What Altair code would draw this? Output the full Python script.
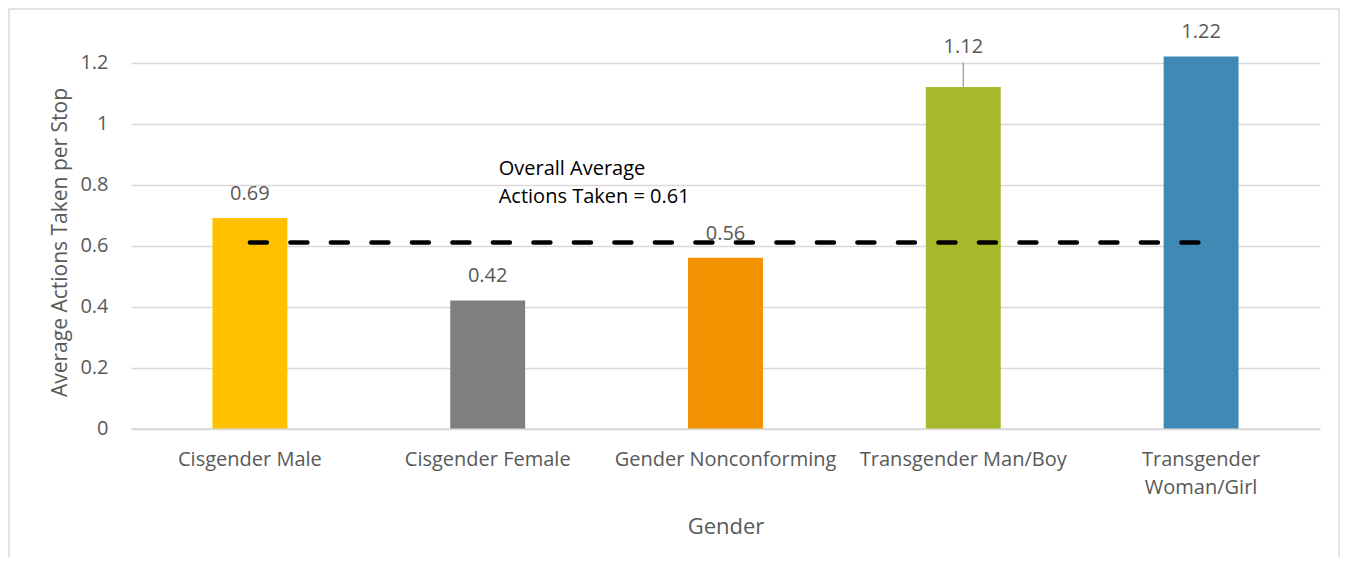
import altair as alt
import pandas as pd

categories = ["Cisgender Male", "Cisgender Female", "Gender Nonconforming",
              "Transgender Man/Boy", "Transgender Woman/Girl"]
values = [0.69, 0.42, 0.56, 1.12, 1.22]
labels = ["0.69", "0.42", "0.56", "1.12", "1.22"]
colors = ["#FFC000", "#7F7F7F", "#F39200", "#A7B82A", "#3F89B4"]
overall_avg = 0.61
overall_text = ["Overall Average", "Actions Taken = 0.61"]
y_ticks = [0, 0.2, 0.4, 0.6, 0.8, 1.0, 1.2]

FONT = "Open Sans"
TXT = "#595959"

df = pd.DataFrame({"cat": categories, "val": values, "lab": labels, "col": colors})
label_expr = "datum.value == 'Transgender Woman/Girl' ? ['Transgender', 'Woman/Girl'] : datum.value"

W, H = 1189, 396.5

x = alt.X("cat:N", sort=categories, title="Gender",
          scale=alt.Scale(paddingInner=0.685, paddingOuter=0.3425),
          axis=alt.Axis(labelExpr=label_expr, labelAngle=0, labelFont=FONT, labelFontSize=20,
                        labelColor=TXT, labelPadding=37, ticks=False, domain=True,
                        labelLimit=400, labelOverlap=False,
                        domainColor="#d9d9d9", domainWidth=1.5, titleFont=FONT, titleFontSize=22,
                        titleColor=TXT, titleFontWeight="normal", titleBaseline="alphabetic",
                        titleX=W / 2, titleY=104.5,
                        labelLineHeight=28, labelBaseline="alphabetic"))
y = alt.Y("val:Q", title="Average Actions Taken per Stop",
          scale=alt.Scale(domain=[0, 1.3], nice=False),
          axis=alt.Axis(values=y_ticks, labelExpr="format(datum.value, '')",
                        labelFont=FONT, labelFontSize=20, labelColor=TXT, labelPadding=23,
                        ticks=False, domain=False, grid=True, gridColor="#d9d9d9",
                        gridWidth=1.5, titleFont=FONT, titleFontSize=21, titleColor=TXT,
                        titleFontWeight="normal", titleBaseline="middle",
                        titleX=-71, titleY=210))

bars = alt.Chart(df).mark_bar().encode(
    x=x, y=y, color=alt.Color("col:N", scale=None))

lab_df = df[df["cat"] != "Transgender Man/Boy"]
text = alt.Chart(lab_df).mark_text(font=FONT, fontSize=20, color=TXT, baseline="alphabetic", dy=-18).encode(
    x=alt.X("cat:N", sort=categories), y="val:Q", text="lab:N")

lead_df = df[df["cat"] == "Transgender Man/Boy"].assign(top=1.2)
leader = alt.Chart(lead_df).mark_rule(color="#a6a6a6", strokeWidth=1.5).encode(
    x=alt.X("cat:N", sort=categories), y="val:Q", y2="top:Q")
lead_text = alt.Chart(lead_df).mark_text(font=FONT, fontSize=20, color=TXT, baseline="alphabetic", dy=-10).encode(
    x=alt.X("cat:N", sort=categories), y="top:Q", text="lab:N")

avg_df = pd.DataFrame({"cat": [categories[0], categories[-1]], "v": [overall_avg, overall_avg]})
avg_line = alt.Chart(avg_df).mark_line(color="black", strokeWidth=4.5, strokeDash=[17, 23.5],
                                       strokeCap="round").encode(
    x=alt.X("cat:N", sort=categories), y="v:Q")

ann_df = pd.DataFrame({"cat": [categories[1]], "v": [0.830], "t": [overall_text]})
ann = alt.Chart(ann_df).mark_text(font=FONT, fontSize=20, color="black", align="left",
                                  baseline="alphabetic", dx=11, lineHeight=28).encode(
    x=alt.X("cat:N", sort=categories), y="v:Q", text="t")

frame = alt.Chart(df.head(1)).mark_rect(fill=None, stroke="#d9d9d9", strokeWidth=1.5).encode(
    x=alt.value(-122), x2=alt.value(1208), y=alt.value(-23), y2=alt.value(600))

chart = alt.layer(frame, bars, leader, avg_line, text, lead_text, ann).properties(
    width=W, height=H, padding={"left": 123, "top": 24, "right": 20, "bottom": 128},
    autosize=alt.AutoSizeParams(type="none"), background="white"
).configure_view(strokeWidth=0)

chart.save("out.html", embed_options={"renderer": "svg", "actions": False})
